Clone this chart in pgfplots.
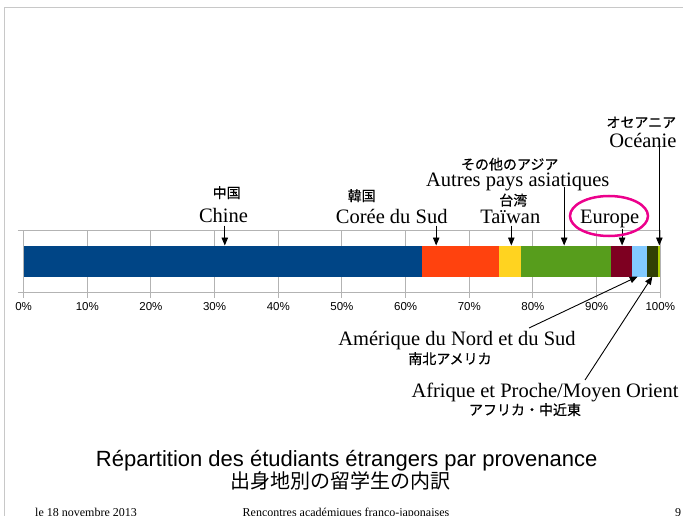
\documentclass[border=0pt]{standalone}
\usepackage{pgfplots}
\pgfplotsset{compat=1.18}
\usepackage{fontspec}
\setmainfont{Liberation Serif}
\setsansfont{Liberation Sans}
\newfontfamily\jp{Noto Sans CJK JP}
\newfontfamily\jpb[FakeBold=0.4]{Noto Sans CJK JP}
\usetikzlibrary{arrows.meta}
\definecolor{c1}{HTML}{004586}
\definecolor{c2}{HTML}{FF420E}
\definecolor{c3}{HTML}{FFD320}
\definecolor{c4}{HTML}{579D1C}
\definecolor{c5}{HTML}{7E0021}
\definecolor{c6}{HTML}{83CAFF}
\definecolor{c7}{HTML}{314004}
\definecolor{c8}{HTML}{AECF00}
\definecolor{gridg}{HTML}{B3B3B3}
\definecolor{frameg}{HTML}{C8C8C8}
\begin{document}
\begin{tikzpicture}[x=1pt,y=1pt]
\useasboundingbox (0,0) rectangle (683,515);
\draw[frameg, line width=1pt] (4,-5) -- (4,507) -- (690,507);
\begin{axis}[
  at={(23.6pt,223pt)}, anchor=south west,
  scale only axis, width=636.7pt, height=62pt,
  xbar stacked, bar width=31pt,
  xmin=0, xmax=100, ymin=0, ymax=1,
  xtick={0,10,...,100},
  xticklabels={0\%,10\%,20\%,30\%,40\%,50\%,60\%,70\%,80\%,90\%,100\%},
  ytick={0,1}, yticklabels={},
  xmajorgrids, ymajorgrids,
  grid style={gridg, line width=1pt},
  axis line style={gridg, line width=1pt},
  tick style={gridg, line width=1pt},
  tick align=outside, major tick length=6pt,
  axis x line*=bottom, axis y line*=left,
  xticklabel style={font=\sffamily\fontsize{11.5}{13}\selectfont, yshift=-1pt},
  clip=false,
]
\addplot[draw=none, fill=c1] coordinates {(62.6,0.5)};
\addplot[draw=none, fill=c2] coordinates {(12.1,0.5)};
\addplot[draw=none, fill=c3] coordinates {(3.4,0.5)};
\addplot[draw=none, fill=c4] coordinates {(14.2,0.5)};
\addplot[draw=none, fill=c5] coordinates {(3.3,0.5)};
\addplot[draw=none, fill=c6] coordinates {(2.35,0.5)};
\addplot[draw=none, fill=c7] coordinates {(1.7,0.5)};
\addplot[draw=none, fill=c8] coordinates {(0.35,0.5)};
\coordinate (tChine) at (axis cs:31.6,0.75);
\coordinate (tCoree) at (axis cs:64.8,0.75);
\coordinate (tTaiwan) at (axis cs:76.6,0.75);
\coordinate (tAsie) at (axis cs:84.9,0.75);
\coordinate (tEurope) at (axis cs:94.0,0.75);
\coordinate (tOceanie) at (axis cs:99.85,0.75);
\coordinate (tAmer) at (axis cs:96.45,0.25);
\coordinate (tAfr) at (axis cs:98.75,0.25);
\end{axis}
\tikzset{arr/.style={-{Triangle[length=8pt,width=6.5pt]}, line width=0.9pt, black}}
\draw[arr] ([yshift=20pt]tChine) -- (tChine);
\draw[arr] ([yshift=20pt]tCoree) -- (tCoree);
\draw[arr] ([yshift=20pt]tTaiwan) -- (tTaiwan);
\draw[arr] ([yshift=58pt]tAsie) -- (tAsie);
\draw[arr] ([yshift=17pt]tEurope) -- (tEurope);
\draw[arr] ([yshift=99pt]tOceanie) -- (tOceanie);
\draw[arr] (529,187) -- (tAmer);
\draw[arr] (585,135) -- (tAfr);
% labels
\def\lab{\fontsize{20.5}{24}\selectfont}
\def\jl{\jpb\fontsize{14}{16}\selectfont}
\node[anchor=base, inner sep=0pt, font=\jl] at (226.7,317) {中国};
\node[anchor=base, inner sep=0pt, font=\lab] at (223.5,292.3) {Chine};
\node[anchor=base, inner sep=0pt, font=\jl] at (361.7,314) {韓国};
\node[anchor=base, inner sep=0pt, font=\lab] at (391.7,291) {Corée du Sud};
\node[anchor=base, inner sep=0pt, font=\jl] at (513.3,309.5) {台湾};
\node[anchor=base, inner sep=0pt, font=\lab] at (510.3,291) {Taïwan};
\node[anchor=base, inner sep=0pt, font=\jl] at (509.7,345.5) {その他のアジア};
\node[anchor=base, inner sep=0pt, font=\lab] at (517.7,328) {Autres pays asiatiques};
\node[anchor=base, inner sep=0pt, font=\lab] at (609.7,291) {Europe};
\draw[magenta, line width=2.5pt] (609,299) ellipse [x radius=39, y radius=20];
\node[anchor=base, inner sep=0pt, font=\jl] at (641.3,387.5) {オセアニア};
\node[anchor=base east, inner sep=0pt, font=\lab] at (676.7,367.3) {Océanie};
\node[anchor=base, inner sep=0pt, font=\lab] at (457,170) {Amérique du Nord et du Sud};
\node[anchor=base, inner sep=0pt, font=\jl] at (450,151) {南北アメリカ};
\node[anchor=base, inner sep=0pt, font=\lab] at (545,118) {Afrique et Proche/Moyen Orient};
\node[anchor=base, inner sep=0pt, font=\jl] at (525,100) {アフリカ・中近東};
% title
\node[anchor=base, inner sep=0pt, font=\sffamily\fontsize{22}{26}\selectfont] at (346.7,48.8) {Répartition des étudiants étrangers par provenance};
\node[anchor=base, inner sep=0pt, font=\jp\fontsize{20}{24}\selectfont] at (340,27) {出身地別の留学生の内訳};
% footer
\node[anchor=base west, inner sep=0pt, font=\fontsize{12}{14}\selectfont] at (35,-1) {le 18 novembre 2013};
\node[anchor=base, inner sep=0pt, font=\fontsize{12}{14}\selectfont] at (346,-1) {Rencontres académiques franco-japonaises};
\node[anchor=base, inner sep=0pt, font=\fontsize{12}{14}\selectfont] at (678,-1) {9};
\end{tikzpicture}
\end{document}
